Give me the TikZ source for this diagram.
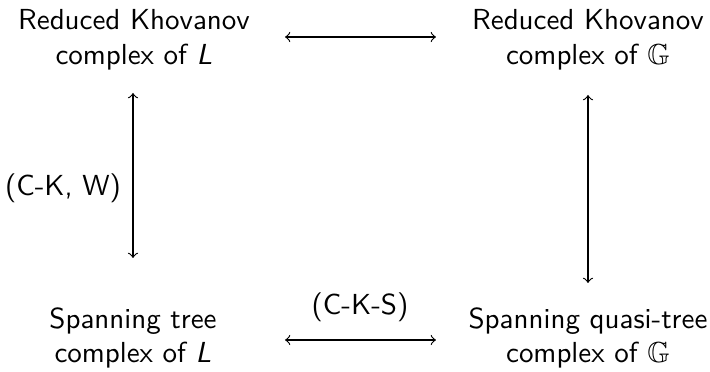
\documentclass[tikz,border=0pt]{standalone}
\usepackage{amssymb}
\begin{document}
\begin{tikzpicture}[x=0.345pt,y=-0.345pt,
  every node/.style={font=\sffamily},
  box/.style={align=center,inner sep=0pt},
  lbl/.style={inner sep=0pt},
  link/.style={<->,line width=0.4pt}]
\useasboundingbox (0,0) rectangle (710,372);
\node[box] (tl) at (134,40) {Reduced Khovanov\\complex of \textit{L}};
\node[box] (tr) at (588,40) {Reduced Khovanov\\complex of $\mathbb{G}$};
\node[box] (bl) at (133,338) {Spanning tree\\complex of \textit{L}};
\node[box] (br) at (588,338) {Spanning quasi-tree\\complex of $\mathbb{G}$};
\coordinate (t1) at (285,37);
\coordinate (t2) at (436,37);
\coordinate (b1) at (285,340);
\coordinate (b2) at (436,340);
\coordinate (l1) at (133,93);
\coordinate (l2) at (133,258);
\coordinate (r1) at (588,95);
\coordinate (r2) at (588,283);
\draw[link] (t1) -- (t2);
\draw[link] (b1) -- (b2);
\draw[link] (l1) -- (l2);
\draw[link] (r1) -- (r2);
\node[lbl] (lk) at (63,188) {(C-K, W)};
\node[lbl] (lks) at (360,307) {(C-K-S)};
\end{tikzpicture}
\end{document}
